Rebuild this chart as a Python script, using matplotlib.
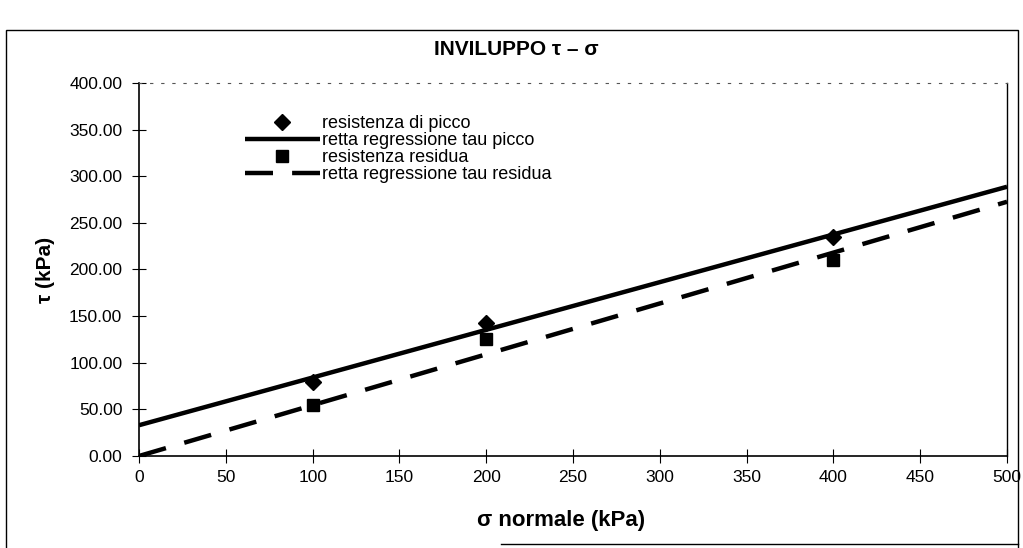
import numpy as np
import matplotlib
matplotlib.use("Agg")
import matplotlib.pyplot as plt
from matplotlib.lines import Line2D
from matplotlib.patches import Rectangle

plt.rcParams["font.family"] = ["Liberation Sans", "DejaVu Sans"]

# sigma normale (kPa)
sigma = [100, 200, 400]
# resistenza di picco / residua (kPa)
tau_picco = [79, 143, 235]
tau_residua = [55, 125, 210]

x_ticks = [0, 50, 100, 150, 200, 250, 300, 350, 400, 450, 500]
y_ticks = [0, 50, 100, 150, 200, 250, 300, 350, 400]


def main() -> None:
    fig = plt.figure(figsize=(10.23, 5.48), dpi=100)
    ax = fig.add_axes([0.1359, 0.1679, 0.8485, 0.6807])

    # regression lines from the points
    slope_p, icpt_p = np.polyfit(sigma, tau_picco, 1)
    x = np.asarray(sigma, dtype=float)
    slope_r = np.dot(x, tau_residua) / np.dot(x, x)  # through origin
    xs = np.array([0, 500])

    ax.plot(sigma, tau_picco, "D", color="black", ms=8, ls="none",
            label="resistenza di picco", zorder=3)
    ax.plot(xs, icpt_p + slope_p * xs, color="black", lw=3.2,
            solid_capstyle="butt", label="retta regressione tau picco")
    ax.plot(sigma, tau_residua, "s", color="black", ms=8.5, ls="none",
            label="resistenza residua", zorder=3)
    ax.plot(xs, slope_r * xs, color="black", lw=3.2, dashes=(6.3, 4.3),
            label="retta regressione tau residua")

    ax.set_xlim(0, 500)
    ax.set_ylim(0, 400)
    ax.set_xticks(x_ticks)
    ax.set_yticks(y_ticks)
    ax.set_yticklabels([f"{v:.2f}" for v in y_ticks])
    ax.tick_params(axis="x", direction="inout", length=10, labelsize=12.5, pad=5)
    ax.tick_params(axis="y", direction="inout", length=10, labelsize=12.5, pad=7)

    ax.spines["top"].set_linestyle((0, (2, 8)))
    ax.spines["top"].set_color("#555555")
    ax.spines["top"].set_linewidth(0.8)
    ax.spines["right"].set_linewidth(1.0)
    ax.spines["left"].set_linewidth(1.2)
    ax.spines["bottom"].set_linewidth(1.2)

    fig.text(0.505, 0.909, "INVILUPPO τ – σ", fontsize=15, fontweight="bold",
             ha="center", va="center")
    ax.set_xlabel("σ normale (kPa)", fontsize=16, fontweight="bold")
    ax.xaxis.set_label_coords(0.486, -0.145)
    ax.set_ylabel("τ (kPa)", fontsize=15, fontweight="bold", labelpad=10)

    ax.legend(loc="upper left", bbox_to_anchor=(0.122, 0.914), frameon=False,
              fontsize=13, handlelength=4.15, handletextpad=0.1,
              labelspacing=0.0, borderaxespad=0, borderpad=0)

    # outer chart frame
    fig.patches.append(Rectangle((0.006, -0.01), 0.989, 0.955,
                                 transform=fig.transFigure, fill=False,
                                 edgecolor="black", lw=1.0))
    fig.lines.append(Line2D([0.49, 0.995], [0.008, 0.008],
                            transform=fig.transFigure, color="black", lw=1.0))

    fig.savefig("out.png", dpi=100)


if __name__ == "__main__":
    main()
